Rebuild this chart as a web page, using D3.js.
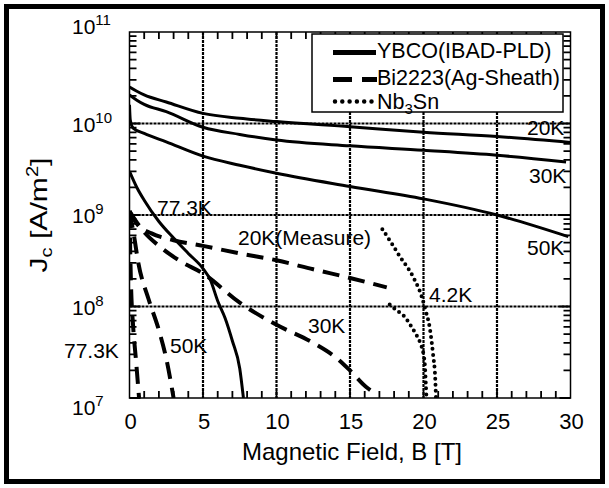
<!DOCTYPE html>
<html>
  <head>
  <style>
    body { margin: 0; background: #fff; }
    text { font-family: "Liberation Sans", Arial, sans-serif; fill: #000; }
  </style>
  </head>
  <body>
  <div id="my_dataviz"></div>

  <script src="https://d3js.org/d3.v7.min.js"></script>
  <script>

// ---- data: [B (T), Jc (A/m2)] ----
var ybco20  = [[0,2.5e10],[0.5,2.25e10],[1,2.05e10],[2.5,1.72e10],[5,1.29e10],[7.5,1.14e10],[10,1.05e10],[15,9.2e9],[20,8.0e9],[25,7.2e9],[30,6.2e9]]
var ybco30  = [[0,2.05e10],[0.5,1.8e10],[1,1.62e10],[2.5,1.35e10],[5,9.1e9],[7.5,7.6e9],[10,6.6e9],[15,5.7e9],[20,5.1e9],[25,4.5e9],[29.7,3.8e9]]
var ybco50  = [[0,1.6e10],[0.05,1.1e10],[0.25,8.9e9],[1,7.8e9],[2.5,6.3e9],[5,4.4e9],[7.5,3.5e9],[10,2.86e9],[15,2.05e9],[20,1.5e9],[25,1.0e9],[29.85,5.8e8]]
var ybco77  = [[0,3.0e9],[0.5,2.0e9],[1,1.45e9],[2,8.5e8],[3,5.6e8],[4,3.8e8],[5,2.6e8],[5.5,1.95e8],[6,1.15e8],[6.5,7.5e7],[7,4.2e7],[7.5,2.1e7],[7.75,1.0e7]]

var bi20m   = [[0,1.1e9],[0.5,8e8],[1.5,6.3e8],[3,5.3e8],[5,4.6e8],[7.5,3.8e8],[10,3.2e8],[12.5,2.55e8],[15,2.05e8],[17.5,1.62e8]]
var bi30    = [[0,1.1e9],[1,6.5e8],[2,4.6e8],[3.5,3.1e8],[5,2.3e8],[7.5,1.1e8],[10,6.3e7],[12.5,4e7],[14,2.8e7],[15,2.0e7],[16.1,1.32e7],[16.8,1.1e7]]
var bi50    = [[0,1.1e9],[0.3,6e8],[0.6,3e8],[1.3,1.2e8],[2.0,5.5e7],[2.5,2.7e7],[3.0,1.0e7]]
var bi77    = [[0,1.1e9],[0.05,4e8],[0.1,1.8e8],[0.25,6e7],[0.45,2.5e7],[0.65,1.0e7]]

var nbA     = [[17.2,7e8],[17.8,5e8],[18.4,3.5e8],[19.3,2.1e8],[19.9,1.25e8],[20.15,9e7],[20.45,5.5e7],[20.65,3e7],[20.8,1.6e7],[20.85,1.0e7]]
var nbB     = [[17.7,1.05e8],[18.2,9e7],[18.7,7.8e7],[19.1,6.3e7],[19.45,5.1e7],[19.8,3.9e7],[20.0,3e7],[20.1,2.2e7],[20.15,1.5e7],[20.2,1.0e7]]

var xTicks = [0,5,10,15,20,25,30]
var yDecades = [7,8,9,10,11]
var gridX = [5,10,15,20,25]
var gridY = [1e8,1e9,1e10]

var legendNames = ["YBCO(IBAD-PLD)","Bi2223(Ag-Sheath)","Nb3Sn"]

var width = 609
    height = 488

var svg = d3.select("#my_dataviz")
  .append("svg")
    .attr("width", width)
    .attr("height", height)

// outer frame
svg.append("rect")
  .attr("x", 6.5).attr("y", 6.5)
  .attr("width", 596).attr("height", 475)
  .attr("fill", "white")
  .attr("stroke", "black")
  .attr("stroke-width", 5)

var x = d3.scaleLinear().domain([0,30]).range([129.5,570.5])
var y = d3.scaleLog().domain([1e7,1e11]).range([398,32])

// clip for the curves
svg.append("clipPath").attr("id","plotclip")
  .append("rect")
  .attr("x", x(0)).attr("y", y(1e11))
  .attr("width", x(30)-x(0)).attr("height", y(1e7)-y(1e11))

// grid lines (dotted, heavy)
svg.selectAll(".gx").data(gridX).enter().append("line")
  .attr("class", "gx")
  .attr("x1", d => x(d)).attr("x2", d => x(d))
  .attr("y1", y(1e11)).attr("y2", y(1e7))
  .attr("stroke", "#000").attr("stroke-width", 2.2).attr("stroke-dasharray", "3,1")
svg.selectAll(".gy").data(gridY).enter().append("line")
  .attr("class", "gy")
  .attr("x1", x(0)).attr("x2", x(30))
  .attr("y1", d => y(d)).attr("y2", d => y(d))
  .attr("stroke", "#000").attr("stroke-width", 2.2).attr("stroke-dasharray", "3,1")

// curves
var line = d3.line()
  .x(d => x(d[0]))
  .y(d => y(d[1]))
  .curve(d3.curveMonotoneX)

var g = svg.append("g").attr("clip-path", "url(#plotclip)")

function curve(data, kind) {
  var p = g.append("path")
    .attr("d", line(data))
    .attr("fill", "none")
    .attr("stroke", "black")
  if (kind == "solid") p.attr("stroke-width", 3)
  if (kind == "dash") p.attr("stroke-width", 4).attr("stroke-dasharray", "17,9")
  if (kind == "dot") p.attr("stroke-width", 4).attr("stroke-linecap", "round").attr("stroke-dasharray", "0,6")
}
curve(ybco20, "solid")
curve(ybco30, "solid")
curve(ybco50, "solid")
curve(ybco77, "solid")
curve(bi20m, "dash")
curve(bi30, "dash")
curve(bi50, "dash")
curve(bi77, "dash")
curve(nbA, "dot")
curve(nbB, "dot")

// inward ticks, drawn as one path per side
var xMinor = d3.range(1, 30)
var yMinor = []
yDecades.slice(0, -1).forEach(function(e) {
  for (var k = 1; k < 10; k++) yMinor.push({v: k * Math.pow(10, e), len: k == 1 ? 11 : 7})
})
var tp = d3.path()
xMinor.forEach(function(v) {
  tp.moveTo(x(v), y(1e7)); tp.lineTo(x(v), y(1e7) - 7)
  tp.moveTo(x(v), y(1e11)); tp.lineTo(x(v), y(1e11) + 7)
})
yMinor.forEach(function(d) {
  tp.moveTo(x(0), y(d.v)); tp.lineTo(x(0) + d.len, y(d.v))
  tp.moveTo(x(30), y(d.v)); tp.lineTo(x(30) - d.len, y(d.v))
})
svg.append("path")
  .attr("d", tp.toString())
  .attr("fill", "none")
  .attr("stroke", "black")
  .attr("stroke-width", 1.8)

// plot box
svg.append("rect")
  .attr("x", x(0)).attr("y", y(1e11))
  .attr("width", x(30)-x(0)).attr("height", y(1e7)-y(1e11))
  .attr("fill", "none").attr("stroke", "black").attr("stroke-width", 1.5)

// x tick labels
svg.selectAll(".xl").data(xTicks).enter().append("text")
  .attr("class", "xl")
  .attr("x", d => x(d) + 1).attr("y", 429)
  .attr("text-anchor", "middle")
  .style("font-size", "22px")
  .text(d => d)

// y tick labels 10^n
var yLab = svg.selectAll(".yl").data(yDecades).enter().append("text")
  .attr("class", "yl")
  .attr("x", 72)
  .attr("y", function(d) {
    if (d == 11) return 34
    if (d == 7) return 415
    return y(Math.pow(10, d)) + 8
  })
  .style("font-size", "21px")
yLab.append("tspan").text("10")
yLab.append("tspan").attr("dy", -9).style("font-size", "15px").text(d => d)

// axis titles
svg.append("text")
  .attr("x", 352).attr("y", 460)
  .attr("text-anchor", "middle")
  .style("font-size", "24px")
  .text("Magnetic Field, B [T]")

var yt = svg.append("text")
  .attr("transform", "translate(47,215) rotate(-90)")
  .attr("text-anchor", "middle")
  .attr("textLength", 115).attr("lengthAdjust", "spacingAndGlyphs")
  .style("font-size", "24px")
yt.append("tspan").text("J")
yt.append("tspan").attr("dy", 5).style("font-size", "16px").text("c")
yt.append("tspan").attr("dy", -5).text(" [A/m")
yt.append("tspan").attr("dy", -9).style("font-size", "16px").text("2")
yt.append("tspan").attr("dy", 9).text("]")

// curve labels
var curveLabels = [
  {t: "20K", x: 527, y: 135},
  {t: "30K", x: 529, y: 183},
  {t: "50K", x: 527, y: 255},
  {t: "77.3K", x: 157, y: 215},
  {t: "20K(Measure)", x: 238, y: 245},
  {t: "4.2K", x: 429, y: 302},
  {t: "30K", x: 308, y: 333},
  {t: "50K", x: 170, y: 353},
  {t: "77.3K", x: 64, y: 358}
]
svg.selectAll(".cl").data(curveLabels).enter().append("text")
  .attr("class", "cl")
  .attr("x", d => d.x).attr("y", d => d.y)
  .style("font-size", "21px")
  .text(d => d.t)

// legend
var lg = svg.append("g")
lg.append("rect")
  .attr("x", 312).attr("y", 34).attr("width", 251).attr("height", 78)
  .attr("fill", "white").attr("stroke", "black").attr("stroke-width", 1.5)

var rows = [52.5, 79.5, 101.5]
lg.append("line").attr("x1", 333).attr("x2", 376).attr("y1", rows[0]).attr("y2", rows[0])
  .attr("stroke", "black").attr("stroke-width", 5)
lg.append("line").attr("x1", 333).attr("x2", 377).attr("y1", rows[1]).attr("y2", rows[1])
  .attr("stroke", "black").attr("stroke-width", 5).attr("stroke-dasharray", "19,10")
lg.append("line").attr("x1", 335).attr("x2", 377).attr("y1", rows[2]).attr("y2", rows[2])
  .attr("stroke", "black").attr("stroke-width", 4.5).attr("stroke-linecap", "round").attr("stroke-dasharray", "0,7.3")

lg.append("text").attr("x", 377).attr("y", 58).style("font-size", "21.5px").text(legendNames[0])
lg.append("text").attr("x", 377).attr("y", 85).style("font-size", "21.5px").text(legendNames[1])
var nb = lg.append("text").attr("x", 377).attr("y", 109).style("font-size", "21.5px")
nb.append("tspan").text("Nb")
nb.append("tspan").attr("dy", 5).style("font-size", "15px").text("3")
nb.append("tspan").attr("dy", -5).text("Sn")

</script>
</body>
</html>
